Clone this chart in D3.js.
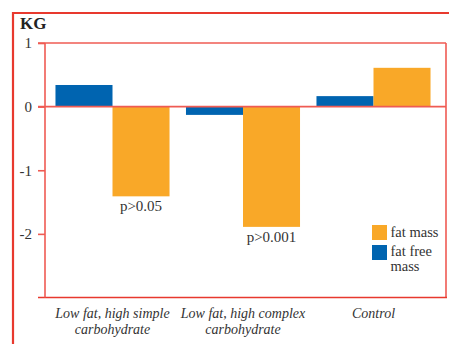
<!DOCTYPE html>
<html><head><meta charset="utf-8">
<script src="https://cdn.jsdelivr.net/npm/d3@7"></script>
<style>body{margin:0;background:#fff}svg{display:block}</style>
</head><body>
<script>
const categories = [["Low fat, high simple","carbohydrate"],["Low fat, high complex","carbohydrate"],["Control"]];
const seriesNames = ["fat free mass","fat mass"];
const fatFree = [0.34, -0.13, 0.165];
const fatMass = [-1.41, -1.89, 0.61];
const pLabels = ["p>0.05","p>0.001",""];
const yTicks = [1,0,-1,-2];
const colors = ["#0064b0","#f9a828"];
const red = "#e8392e", red2 = "#ef5b53";
const FONT = "'Liberation Serif', 'Times New Roman', serif";

const W=449,H=344;
const svg=d3.select("body").append("svg").attr("width",W).attr("height",H).style("font-family",FONT);
const pLeft=45,pRight=446,pTop=43,pBottom=297.5;
const y=d3.scaleLinear().domain([-3,1]).range([pBottom,pTop]);
const x0=d3.scaleBand().domain(d3.range(3)).range([47.25,438.75]).paddingInner(0.126).paddingOuter(0.063);
const x1=d3.scaleBand().domain([0,1]).range([0,x0.bandwidth()]);

// outer frame
svg.append("line").attr("x1",12).attr("x2",W).attr("y1",13).attr("y2",13).attr("stroke",red).attr("stroke-width",2.2);
svg.append("line").attr("x1",13).attr("x2",13).attr("y1",12).attr("y2",H).attr("stroke",red).attr("stroke-width",2.2);

// bars
const data=[fatFree,fatMass];
data.forEach((vals,s)=>{
  svg.append("g").selectAll("rect").data(vals).join("rect")
    .attr("x",(d,i)=>x0(i)+x1(s)).attr("width",x1.bandwidth())
    .attr("y",d=>y(Math.max(0,d))).attr("height",d=>Math.abs(y(d)-y(0)))
    .attr("fill",colors[s]);
});

// plot box
svg.append("line").attr("x1",38).attr("x2",pRight).attr("y1",pTop).attr("y2",pTop).attr("stroke",red2).attr("stroke-width",1.6);
svg.append("line").attr("x1",pRight).attr("x2",pRight).attr("y1",pTop).attr("y2",pBottom).attr("stroke",red2).attr("stroke-width",1.6);
svg.append("line").attr("x1",38).attr("x2",pRight+1).attr("y1",pBottom).attr("y2",pBottom).attr("stroke",red).attr("stroke-width",1.6);
svg.append("line").attr("x1",38).attr("x2",pRight).attr("y1",y(0)).attr("y2",y(0)).attr("stroke",red2).attr("stroke-width",1.6);

// y axis
const ya=svg.append("g").attr("transform",`translate(${pLeft},0)`).call(d3.axisLeft(y).tickValues(yTicks).tickSize(7).tickPadding(6).tickFormat(d3.format("d")));
ya.attr("font-family",FONT).attr("font-size",15);
ya.select(".domain").attr("stroke",red2).attr("stroke-width",1.6).attr("d",`M0,${pTop}V${pBottom}`);
ya.selectAll(".tick line").attr("stroke",red2).attr("stroke-width",1.6);
ya.selectAll(".tick text").attr("fill","#333").style("font-family",FONT).text(d=>d<0?"-"+Math.abs(d):d);

svg.append("text").attr("x",20).attr("y",29).attr("font-size",17).attr("font-weight","bold").attr("fill","#222").style("font-family",FONT).text("KG");

// p labels
svg.append("g").selectAll("text").data(pLabels).join("text")
  .attr("x",(d,i)=>x0(i)+x1(1)+x1.bandwidth()/2).attr("y",(d,i)=>y(fatMass[i])+15)
  .attr("text-anchor","middle").attr("font-size",15).attr("fill","#333").style("font-family",FONT).text(d=>d);

// category labels
const cg=svg.append("g").selectAll("text").data(categories).join("text")
  .attr("x",(d,i)=>x0(i)+x0.bandwidth()/2).attr("y",318).attr("text-anchor","middle")
  .attr("font-size",14).attr("font-style","italic").attr("fill","#333").style("font-family",FONT);
cg.each(function(d,i){
  const t=d3.select(this);
  d.forEach((line,j)=>t.append("tspan").attr("x",x0(i)+x0.bandwidth()/2).attr("dy",j?16:0).text(line));
});

// legend
const lg=svg.append("g").style("font-family",FONT).attr("fill","#333");
lg.append("rect").attr("x",372).attr("y",225).attr("width",15).attr("height",15).attr("fill",colors[1]);
lg.append("rect").attr("x",372).attr("y",245).attr("width",15).attr("height",15).attr("fill",colors[0]);
lg.append("text").attr("x",390.5).attr("y",237).attr("font-size",14.5).text("fat mass");
lg.append("text").attr("x",390.5).attr("y",256).attr("font-size",14.5).text("fat free");
lg.append("text").attr("x",390.5).attr("y",271).attr("font-size",14.5).text("mass");
</script>
</body></html>
